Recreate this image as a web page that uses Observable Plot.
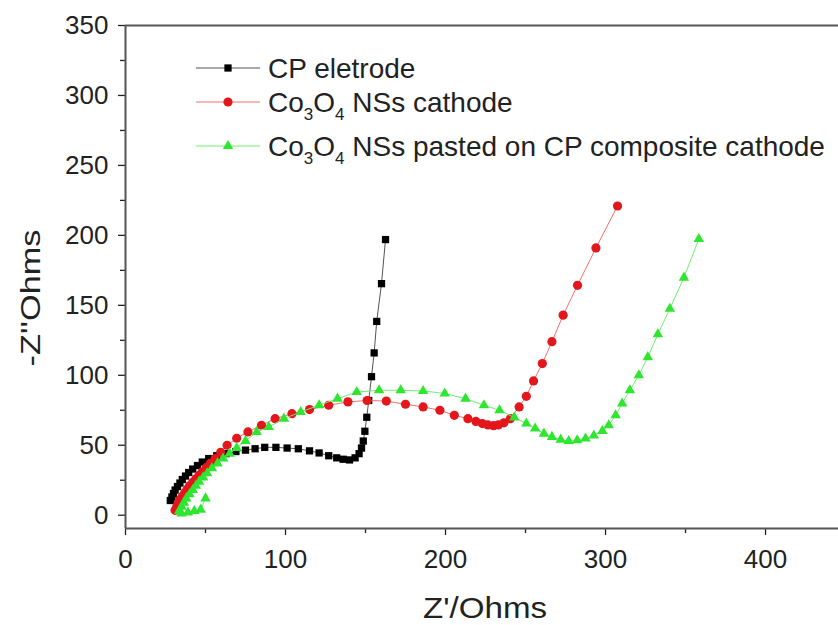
<!DOCTYPE html>
<html><head><meta charset="utf-8">
<script src="https://cdn.jsdelivr.net/npm/d3@7"></script>
<script src="https://cdn.jsdelivr.net/npm/@observablehq/plot@0.6"></script>
<style>
body{margin:0;background:#fff;}
#wrap{position:relative;width:838px;height:625px;overflow:hidden;}
svg{font-family:"Liberation Sans",Arial,sans-serif;}
</style></head>
<body><div id="wrap"></div>
<script>
// ---- data ----
const seriesNames = ["CP eletrode", "Co3O4 NSs cathode", "Co3O4 NSs pasted on CP composite cathode"];

const cpX = [28,29,30,31,32.5,34,35.5,37.5,39.5,42,45,48,52,57,63,69,75,81,87,94,101,108,115,121,127,132,136,140,143.5,146,147.5,148.6,149.6,150.8,152,153.75,155.4,157,160,162.5];
const cpY = [10.5,13,15.5,18,20.5,23,25.5,28,30.5,33,35.5,38,40.5,42.5,44,45.5,46.5,47.5,48.5,48.5,48,47.5,46,44.5,42.5,41,40,39.5,41,44,48,53,60,70,82,99,116,138.5,165.5,197];

const coX = [31,32,33,34,35.5,37,38.5,40,42,44,46,48,50.5,53,56,59.5,63.5,69.5,76.5,85,93.5,104,115,127,139,151,163,175,186,196.5,205.5,214,219,223,226.5,230,233,236.5,240.5,246,250.5,255,260.5,266.5,273.5,282.5,294,307.5];
const coY = [3.5,6,8.5,11,13.5,16,18.5,21,23.5,26,28.5,31,34,37,40.5,45,50,55,59.5,64.3,69,72.6,75.5,78.6,81,82,81.6,79.3,77.4,75,71.4,69,67,65.5,64.5,64,64.5,66,69,77.4,85,96,108.4,124,143,164.3,191,221];

const compX = [50,47,43,39,35,33.5,35,36.5,38,40,42,44,46,48.5,51,54,57.5,61,65,69.5,75,82,89.5,99,109.5,121,132.5,144.5,158.5,172,186,199.5,212.5,224,233.75,243,250.5,256,261.5,266.5,272,277,282.3,287.5,292.7,298,302,306.3,310.4,315.2,320.8,326.4,332.7,340.2,349,358.3];
const compY = [12,4,3,2,1.2,3,6,9,12,15,18,21,24,27,30,33.5,37,40.5,44,48,53,59.5,63,69,73.8,78.6,83.3,88,89.3,89.3,88.8,87,83.3,78.6,75,69.8,65.5,62,58.3,56,54,53,53.6,54.8,57,60.2,64.3,71.4,79.8,89.3,100,113,129.3,147.6,169.8,197.4];

const xTicks = [0, 100, 200, 300, 400];
const xMinorTicks = [50, 150, 250, 350];
const yTicks = [0, 50, 100, 150, 200, 250, 300, 350];
const yMinorTicks = [25, 75, 125, 175, 225, 275, 325];
const xDomain = [0, 445.6];
const yDomain = [-9.5, 350];
const xTitle = "Z'/Ohms";
const yTitle = "-Z''Ohms";

// ---- styles ----
const fills = ["#000000", "#e3161b", "#2fe62f"];
const lineColors = ["#555555", "#f07070", "#70ee70"];
const symbols = ["square", "circle", "triangle"];
const radii = [4.1, 4.6, 3.9];

const toRows = (xs, ys) => xs.map((x, i) => ({x, y: ys[i]}));
const series = [toRows(cpX, cpY), toRows(coX, coY), toRows(compX, compY)];

const seriesMarks = series.flatMap((rows, i) => [
  Plot.line(rows, {x: "x", y: "y", stroke: lineColors[i], strokeWidth: 1}),
  Plot.dot(rows, {x: "x", y: "y", symbol: symbols[i], r: radii[i], fill: fills[i], stroke: "none"})
]);

const chart = Plot.plot({
  width: 838, height: 625,
  marginLeft: 125, marginRight: 0, marginTop: 25, marginBottom: 97,
  x: {domain: xDomain},
  y: {domain: yDomain},
  style: {fontFamily: "Liberation Sans, Arial, sans-serif", color: "#222", background: "#fff", overflow: "visible"},
  marks: [
    Plot.axisX(xTicks, {tickSize: 7, tickPadding: 14, fontSize: 26, label: null, strokeWidth: 1.3}),
    Plot.axisX(xMinorTicks, {tickSize: 5, tickFormat: () => "", label: null, strokeWidth: 1.3}),
    Plot.axisY(yTicks, {tickSize: 7, tickPadding: 10, fontSize: 26, label: null, strokeWidth: 1.3}),
    Plot.axisY(yMinorTicks, {tickSize: 5, tickFormat: () => "", label: null, strokeWidth: 1.3}),
    ...seriesMarks,
    Plot.ruleX([xDomain[0]], {stroke: "#555", strokeWidth: 2}),
    Plot.ruleY([yDomain[0]], {stroke: "#555", strokeWidth: 2}),
    Plot.ruleY([yDomain[1]], {stroke: "#555", strokeWidth: 2})
  ]
});
document.getElementById("wrap").appendChild(chart);

// ---- axis titles and legend (real text) ----
const svg = d3.select(chart);
svg.append("text").text(xTitle)
  .attr("x", 485).attr("y", 618).attr("text-anchor", "middle")
  .attr("font-size", 29).attr("fill", "#222")
  .attr("textLength", 124).attr("lengthAdjust", "spacingAndGlyphs");
svg.append("text").text(yTitle)
  .attr("transform", "translate(40,298) rotate(-90)").attr("text-anchor", "middle")
  .attr("font-size", 28).attr("fill", "#222")
  .attr("textLength", 137).attr("lengthAdjust", "spacingAndGlyphs");

const legendRows = [68, 102, 146];
const lg = svg.append("g").attr("text-anchor", "start");
const symbolTypes = [d3.symbolSquare, d3.symbolCircle, d3.symbolTriangle];
seriesNames.forEach((name, i) => {
  const y = legendRows[i];
  lg.append("line").attr("x1", 196).attr("x2", 260).attr("y1", y).attr("y2", y)
    .attr("stroke", lineColors[i]).attr("stroke-width", 1);
  lg.append("path").attr("transform", `translate(228,${y})`)
    .attr("d", d3.symbol(symbolTypes[i], Math.PI * radii[i] * radii[i])())
    .attr("fill", fills[i]);
  const t = lg.append("text").attr("x", 268).attr("y", y + 10)
    .attr("text-anchor", "start").attr("font-size", 28).attr("fill", "#222");
  const m = name.match(/^Co3O4(.*)$/);
  if (m) {
    t.append("tspan").text("Co");
    t.append("tspan").text("3").attr("font-size", 17).attr("dy", 8);
    t.append("tspan").text("O").attr("dy", -8);
    t.append("tspan").text("4").attr("font-size", 17).attr("dy", 8);
    t.append("tspan").text(m[1]).attr("dy", -8);
  } else {
    t.text(name);
  }
});
</script>
</body></html>
